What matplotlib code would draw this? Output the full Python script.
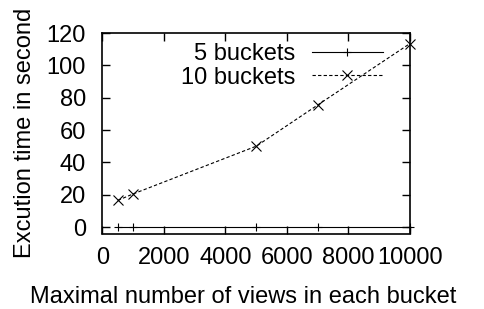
import matplotlib
matplotlib.use("Agg")
import matplotlib.pyplot as plt

# data
views = [500, 1000, 5000, 7000, 10000]
time_5 = [0, 0, 0, 0, 0]
time_10 = [16.5, 20.5, 50, 75.5, 113.5]

x_ticks = [0, 2000, 4000, 6000, 8000, 10000]
y_ticks = [0, 20, 40, 60, 80, 100, 120]

plt.rcParams['font.family'] = ['Liberation Sans', 'DejaVu Sans']
plt.rcParams['font.size'] = 17

fig = plt.figure(figsize=(4.85, 3.09), dpi=100)
ax = fig.add_axes([102.5 / 485, 1 - 233.5 / 309, 307.5 / 485, 200.5 / 309])

ax.plot(views, time_5, '-', color='black', lw=0.8, marker='+', ms=6, mew=0.8, label='5 buckets',
        clip_on=False)
ax.plot(views, time_10, '--', color='black', lw=0.8, dashes=(3, 2), marker='x', ms=6.5, mew=0.8,
        label='10 buckets', clip_on=False)

ax.set_xlim(0, 10000)
ax.set_ylim(-4, 120)
ax.set_xticks(x_ticks)
ax.set_yticks(y_ticks)
ax.tick_params(direction='in', top=True, right=True, length=5.5, width=1)
ax.tick_params(axis='y', pad=12)
ax.tick_params(axis='x', pad=10)
for s in ax.spines.values():
    s.set_linewidth(1.2)

ax.set_xlabel('Maximal number of views in each bucket')
ax.xaxis.set_label_coords(0.457, -0.26)
ax.set_ylabel('Excution time in second')
ax.yaxis.set_label_coords(-0.215, 0.5)

leg = ax.legend(loc='upper left', bbox_to_anchor=(0.225, 0.995), frameon=False,
                markerfirst=False, handlelength=3.0, handletextpad=0.7,
                labelspacing=0.05, borderaxespad=0)
for t in leg.get_texts():
    t.set_ha('right')

fig.savefig('out.png', dpi=100)
